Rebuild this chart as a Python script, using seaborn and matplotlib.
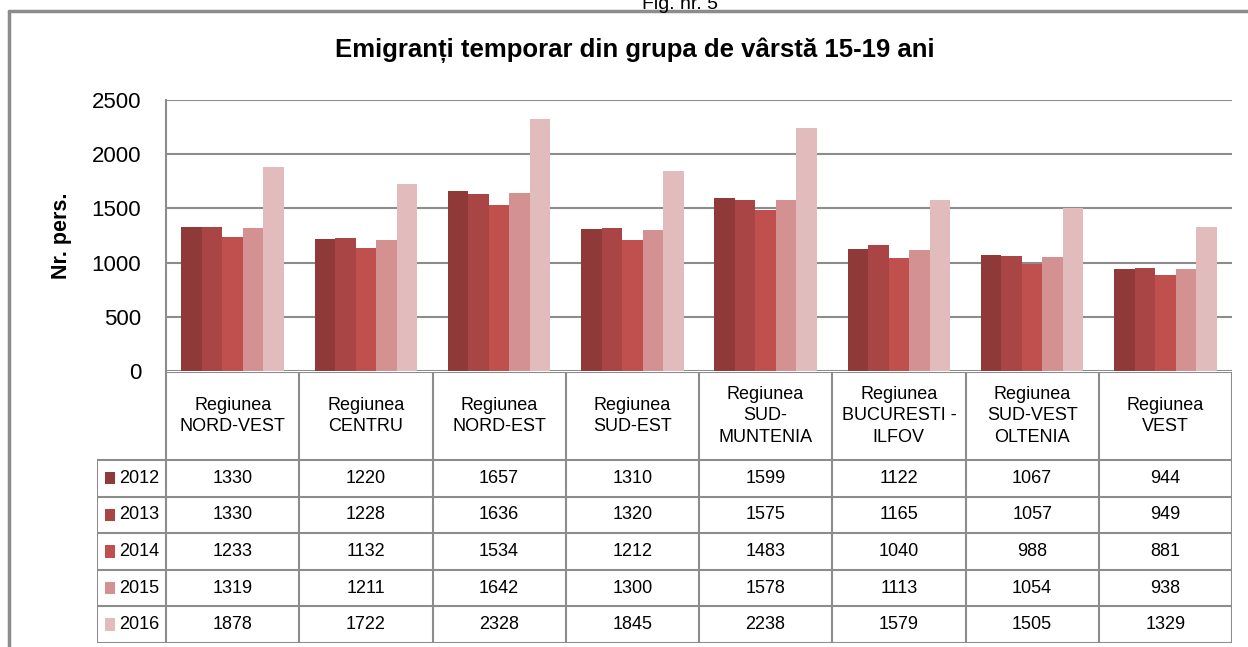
import pandas as pd
import matplotlib.pyplot as plt
import seaborn as sns
from matplotlib.lines import Line2D
from matplotlib.patches import Rectangle

# Datele graficului
regiuni = ["Regiunea\nNORD-VEST", "Regiunea\nCENTRU", "Regiunea\nNORD-EST", "Regiunea\nSUD-EST",
           "Regiunea\nSUD-\nMUNTENIA", "Regiunea\nBUCURESTI -\nILFOV", "Regiunea\nSUD-VEST\nOLTENIA",
           "Regiunea\nVEST"]
ani = ["2012", "2013", "2014", "2015", "2016"]
v2012 = [1330, 1220, 1657, 1310, 1599, 1122, 1067, 944]
v2013 = [1330, 1228, 1636, 1320, 1575, 1165, 1057, 949]
v2014 = [1233, 1132, 1534, 1212, 1483, 1040, 988, 881]
v2015 = [1319, 1211, 1642, 1300, 1578, 1113, 1054, 938]
v2016 = [1878, 1722, 2328, 1845, 2238, 1579, 1505, 1329]
culori = ["#8f3a38", "#a94645", "#c0504d", "#d39191", "#e2bcbc"]

valori = [v2012, v2013, v2014, v2015, v2016]
df = pd.DataFrame([
    {"Regiune": r, "An": a, "Valoare": v}
    for a, serie in zip(ani, valori)
    for r, v in zip(regiuni, serie)
])

sns.set_theme(style="white")
plt.rcParams["font.family"] = ["Liberation Sans", "DejaVu Sans"]
plt.rcParams["text.color"] = "black"

W, H = 1248, 647
fig = plt.figure(figsize=(W / 100, H / 100), dpi=100)
gri = "#8c8c8c"

def fx(px):
    return px / W

def fy(py):
    return 1 - py / H

# Axa cu bare
x0, x1, y0, y1 = 166, 1232, 100, 371
ax = fig.add_axes([fx(x0), fy(y1), fx(x1) - fx(x0), fy(y0) - fy(y1)])
sns.barplot(data=df, x="Regiune", y="Valoare", hue="An", palette=culori, width=0.77,
            saturation=1, linewidth=0, errorbar=None, ax=ax, legend=False, zorder=3)
ax.set_xlim(-0.5, len(regiuni) - 0.5)
ax.set_ylim(0, 2500)
ax.set_yticks(range(0, 2501, 500))
ax.tick_params(axis="y", labelsize=16, length=0, pad=18, colors="black")
ax.set_xticks([])
ax.set_xlabel("")
ax.set_ylabel("Nr. pers.", fontsize=15.5, fontweight="bold", labelpad=14, color="black")
ax.yaxis.grid(True, color=gri, linewidth=1.5, zorder=0)
for s in ["top", "right", "bottom"]:
    ax.spines[s].set_visible(False)
ax.spines["left"].set_color(gri)
ax.spines["left"].set_linewidth(1.5)

# Tabelul de date
tx0, ty0, ty1 = 97, 372, 643
lat_col = (x1 - x0) / len(regiuni)
leg_w = (x0 - tx0) / lat_col
tab = fig.add_axes([fx(tx0), fy(ty1), fx(x1) - fx(tx0), fy(ty0) - fy(ty1)])
h_cap = 2.4
n_r = len(ani)
tab.set_xlim(-0.5 - leg_w, len(regiuni) - 0.5)
tab.set_ylim(n_r + h_cap, 0)
tab.axis("off")

kw = dict(color=gri, linewidth=1.5, solid_capstyle="projecting")
for i in range(len(regiuni) + 1):
    tab.add_line(Line2D([i - 0.5, i - 0.5], [0, n_r + h_cap], **kw))
tab.add_line(Line2D([-0.5 - leg_w] * 2, [h_cap, n_r + h_cap], **kw))
tab.add_line(Line2D([-0.5, len(regiuni) - 0.5], [0, 0], **kw))
for j in range(n_r + 1):
    tab.add_line(Line2D([-0.5 - leg_w, len(regiuni) - 0.5], [h_cap + j, h_cap + j], **kw))

for i, r in enumerate(regiuni):
    tab.text(i, h_cap / 2, r, ha="center", va="center", fontsize=13, linespacing=1.35)
for j, (a, serie) in enumerate(zip(ani, valori)):
    yc = h_cap + j + 0.5
    for i, v in enumerate(serie):
        tab.text(i, yc, str(v), ha="center", va="center", fontsize=13)
    tab.add_patch(Rectangle((-0.5 - leg_w + 0.06, yc - 0.17), 0.075, 0.34,
                            facecolor=culori[j], edgecolor="none"))
    tab.text(-0.5 - leg_w + 0.165, yc, a, ha="left", va="center", fontsize=13)

# Chenar exterior, titlu
fig.add_artist(Line2D([fx(9), fx(W + 5)], [fy(11), fy(11)], color=gri, linewidth=2.5))
fig.add_artist(Line2D([fx(9), fx(9)], [fy(11), fy(H + 5)], color=gri, linewidth=2.5))
fig.text(fx(680), fy(9), "Fig. nr. 5", ha="center", va="baseline", fontsize=14)
fig.text(fx(635), fy(50), "Emigranți temporar din grupa de vârstă 15-19 ani",
         ha="center", va="center", fontsize=18.5, fontweight="bold")

fig.savefig("out.png", dpi=100, facecolor="white")
